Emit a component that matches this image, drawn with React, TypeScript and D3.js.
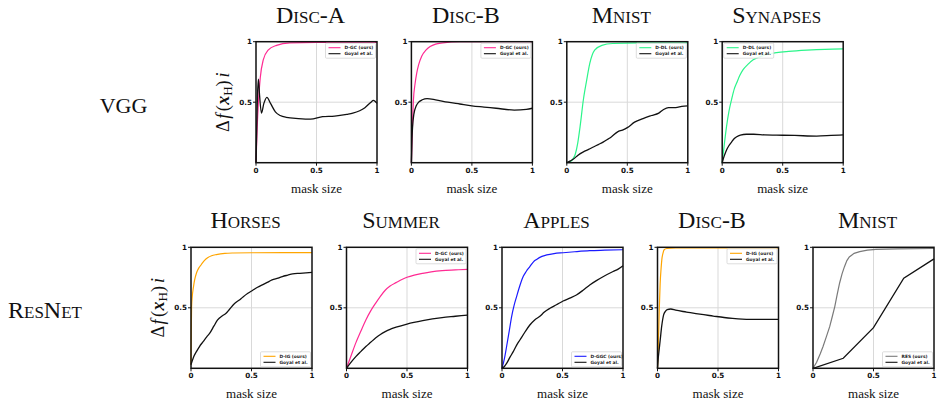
import React from 'react';
import * as d3 from 'd3';

type Pt = [number, number];

// ---- data: [mask size, Δf] ----
const discA_dgc: Pt[] = [[0, 0], [0.01, 0.3], [0.02, 0.5], [0.035, 0.7], [0.06, 0.85], [0.1, 0.93], [0.17, 0.97], [0.28, 0.99], [0.5, 0.995], [1, 0.995]];
const discA_goyal: Pt[] = [[0, 0], [0.012, 0.55], [0.02, 0.69], [0.03, 0.55], [0.045, 0.41], [0.065, 0.49], [0.09, 0.54], [0.12, 0.49], [0.16, 0.42], [0.2, 0.39], [0.25, 0.375], [0.35, 0.365], [0.45, 0.36], [0.55, 0.38], [0.65, 0.385], [0.75, 0.4], [0.8, 0.41], [0.9, 0.455], [0.95, 0.5], [0.97, 0.515], [1, 0.49]];

const discB_dgc: Pt[] = [[0, 0], [0.008, 0.28], [0.017, 0.52], [0.03, 0.65], [0.044, 0.74], [0.06, 0.81], [0.085, 0.88], [0.12, 0.93], [0.155, 0.96], [0.2, 0.98], [0.26, 0.99], [0.4, 1], [1, 1]];
const discB_goyal: Pt[] = [[0, 0], [0.005, 0.2], [0.01, 0.3], [0.02, 0.4], [0.04, 0.47], [0.06, 0.5], [0.09, 0.52], [0.13, 0.53], [0.2, 0.52], [0.3, 0.5], [0.4, 0.485], [0.5, 0.47], [0.6, 0.46], [0.7, 0.45], [0.85, 0.435], [0.95, 0.44], [1, 0.45]];

const mnistV_ddl: Pt[] = [[0, 0], [0.03, 0.01], [0.05, 0.03], [0.07, 0.07], [0.09, 0.16], [0.11, 0.3], [0.137, 0.52], [0.164, 0.68], [0.19, 0.82], [0.23, 0.93], [0.29, 0.97], [0.38, 0.985], [0.6, 0.99], [1, 0.99]];
const mnistV_goyal: Pt[] = [[0, 0], [0.03, 0.015], [0.055, 0.03], [0.09, 0.06], [0.137, 0.09], [0.18, 0.11], [0.22, 0.13], [0.26, 0.15], [0.3, 0.17], [0.34, 0.195], [0.37, 0.215], [0.42, 0.255], [0.46, 0.27], [0.5, 0.29], [0.56, 0.335], [0.63, 0.365], [0.7, 0.39], [0.76, 0.41], [0.8, 0.44], [0.84, 0.455], [0.9, 0.455], [0.95, 0.465], [1, 0.47]];

const syn_ddl: Pt[] = [[0, 0], [0.015, 0.13], [0.036, 0.3], [0.055, 0.42], [0.077, 0.52], [0.1, 0.61], [0.12, 0.66], [0.145, 0.72], [0.17, 0.765], [0.21, 0.81], [0.256, 0.85], [0.31, 0.875], [0.37, 0.895], [0.45, 0.91], [0.55, 0.92], [0.7, 0.93], [0.85, 0.937], [1, 0.94]];
const syn_goyal: Pt[] = [[0, 0], [0.015, 0.05], [0.036, 0.105], [0.055, 0.14], [0.077, 0.17], [0.1, 0.2], [0.12, 0.215], [0.15, 0.228], [0.2, 0.235], [0.26, 0.235], [0.35, 0.23], [0.45, 0.228], [0.6, 0.225], [0.78, 0.22], [0.9, 0.225], [1, 0.23]];

const horses_dig: Pt[] = [[0, 0.03], [0.002, 0.3], [0.005, 0.51], [0.01, 0.59], [0.02, 0.67], [0.03, 0.73], [0.046, 0.79], [0.065, 0.83], [0.087, 0.86], [0.11, 0.89], [0.14, 0.915], [0.17, 0.93], [0.21, 0.94], [0.28, 0.95], [0.35, 0.953], [0.5, 0.955], [1, 0.956]];
const horses_goyal: Pt[] = [[0, 0.03], [0.02, 0.09], [0.046, 0.14], [0.07, 0.18], [0.1, 0.22], [0.13, 0.26], [0.155, 0.29], [0.19, 0.35], [0.22, 0.4], [0.26, 0.435], [0.29, 0.455], [0.32, 0.49], [0.36, 0.535], [0.4, 0.565], [0.43, 0.59], [0.47, 0.62], [0.51, 0.645], [0.55, 0.67], [0.59, 0.69], [0.63, 0.71], [0.67, 0.73], [0.72, 0.745], [0.755, 0.758], [0.8, 0.77], [0.84, 0.78], [0.9, 0.785], [1, 0.793]];

const summer_dgc: Pt[] = [[0, 0], [0.04, 0.11], [0.077, 0.21], [0.12, 0.31], [0.16, 0.4], [0.2, 0.475], [0.24, 0.537], [0.28, 0.595], [0.32, 0.645], [0.36, 0.68], [0.41, 0.708], [0.5, 0.752], [0.56, 0.77], [0.63, 0.785], [0.7, 0.797], [0.79, 0.807], [0.9, 0.813], [1, 0.818]];
const summer_goyal: Pt[] = [[0, 0], [0.03, 0.04], [0.077, 0.096], [0.12, 0.14], [0.16, 0.18], [0.2, 0.215], [0.24, 0.25], [0.28, 0.28], [0.32, 0.303], [0.36, 0.322], [0.41, 0.34], [0.5, 0.366], [0.63, 0.394], [0.79, 0.419], [0.9, 0.43], [1, 0.44]];

const apples_dggc: Pt[] = [[0, 0], [0.02, 0.08], [0.038, 0.18], [0.06, 0.31], [0.08, 0.43], [0.1, 0.52], [0.12, 0.59], [0.15, 0.69], [0.176, 0.76], [0.2, 0.8], [0.23, 0.84], [0.26, 0.88], [0.286, 0.9], [0.33, 0.925], [0.37, 0.937], [0.43, 0.948], [0.505, 0.955], [0.6, 0.963], [0.725, 0.972], [0.85, 0.976], [1, 0.98]];
const apples_goyal: Pt[] = [[0, 0], [0.02, 0.015], [0.038, 0.04], [0.065, 0.09], [0.093, 0.138], [0.12, 0.19], [0.148, 0.234], [0.19, 0.3], [0.23, 0.358], [0.27, 0.4], [0.313, 0.43], [0.35, 0.465], [0.396, 0.496], [0.45, 0.525], [0.505, 0.556], [0.56, 0.58], [0.615, 0.606], [0.67, 0.645], [0.725, 0.689], [0.78, 0.725], [0.835, 0.757], [0.918, 0.8], [0.96, 0.82], [1, 0.848]];

const discBR_dig: Pt[] = [[0, 0], [0.005, 0.12], [0.008, 0.24], [0.015, 0.5], [0.022, 0.7], [0.03, 0.83], [0.036, 0.9], [0.045, 0.95], [0.055, 0.98], [0.077, 0.99], [0.15, 0.995], [1, 0.995]];
const discBR_goyal: Pt[] = [[0, 0], [0.005, 0.07], [0.012, 0.14], [0.022, 0.23], [0.035, 0.35], [0.05, 0.44], [0.065, 0.47], [0.08, 0.485], [0.11, 0.49], [0.15, 0.48], [0.24, 0.465], [0.35, 0.447], [0.46, 0.432], [0.55, 0.42], [0.62, 0.413], [0.7, 0.407], [0.76, 0.405], [0.85, 0.405], [1, 0.405]];

const mnistR_res: Pt[] = [[0, 0], [0.03, 0.05], [0.06, 0.12], [0.083, 0.18], [0.11, 0.26], [0.138, 0.344], [0.16, 0.43], [0.18, 0.51], [0.2, 0.61], [0.22, 0.705], [0.24, 0.78], [0.26, 0.84], [0.28, 0.89], [0.3, 0.92], [0.34, 0.95], [0.386, 0.964], [0.45, 0.976], [0.52, 0.983], [0.7, 0.987], [1, 0.99]];
const mnistR_goyal: Pt[] = [[0, 0], [0.25, 0.083], [0.5, 0.336], [0.75, 0.744], [1, 0.904]];

const xTicks = [0, 0.5, 1];
const yTicks = [0.5, 1];
const tickLabel = (v: number) => (v === 0 ? '0' : v === 1 ? '1' : '0.5');

const PINK = '#ff2a93';
const GREEN = '#2bf58a';
const ORANGE = '#ffa500';
const BLUE = '#1a1aff';
const GRAY = '#7a7a7a';

type Panel = {
  title: string;
  ours: Pt[];
  oursName: string;
  color: string;
  goyal: Pt[];
  legend: 'tr' | 'tl' | 'br';
  linear?: boolean;
};

const vggPanels: Panel[] = [
  { title: 'Disc-A', ours: discA_dgc, oursName: 'D-GC (ours)', color: PINK, goyal: discA_goyal, legend: 'tr' },
  { title: 'Disc-B', ours: discB_dgc, oursName: 'D-GC (ours)', color: PINK, goyal: discB_goyal, legend: 'tr' },
  { title: 'Mnist', ours: mnistV_ddl, oursName: 'D-DL (ours)', color: GREEN, goyal: mnistV_goyal, legend: 'tr' },
  { title: 'Synapses', ours: syn_ddl, oursName: 'D-DL (ours)', color: GREEN, goyal: syn_goyal, legend: 'tl' },
];

const resnetPanels: Panel[] = [
  { title: 'Horses', ours: horses_dig, oursName: 'D-IG (ours)', color: ORANGE, goyal: horses_goyal, legend: 'br' },
  { title: 'Summer', ours: summer_dgc, oursName: 'D-GC (ours)', color: PINK, goyal: summer_goyal, legend: 'tr' },
  { title: 'Apples', ours: apples_dggc, oursName: 'D-GGC (ours)', color: BLUE, goyal: apples_goyal, legend: 'br' },
  { title: 'Disc-B', ours: discBR_dig, oursName: 'D-IG (ours)', color: ORANGE, goyal: discBR_goyal, legend: 'tr' },
  { title: 'Mnist', ours: mnistR_res, oursName: 'RES (ours)', color: GRAY, goyal: mnistR_goyal, legend: 'br', linear: true },
];

const SIZE = 121;
const SERIF = '"Liberation Serif", "Times New Roman", serif';
const SANS = '"DejaVu Sans", sans-serif';

function YLabel({ x, y }: { x: number; y: number }) {
  return (
    <text transform={`translate(${x},${y}) rotate(-90)`} textAnchor="middle" fontFamily={SERIF} fontSize={18} fill="#111">
      <tspan>Δ</tspan>
      <tspan fontStyle="italic" dx={1.5}>f</tspan>
      <tspan dx={2.5}>(</tspan>
      <tspan fontStyle="italic" fontWeight="bold" dx={0.5}>x</tspan>
      <tspan fontSize={13} dy={3}>H</tspan>
      <tspan dy={-3}>)</tspan>
      <tspan fontStyle="italic" dx={3}>i</tspan>
    </text>
  );
}

function Plot({ p, left, top, showY }: { p: Panel; left: number; top: number; showY: boolean }) {
  const x = d3.scaleLinear().domain([0, 1]).range([left, left + SIZE]);
  const y = d3.scaleLinear().domain([0, 1]).range([top + SIZE, top]);
  const line = d3
    .line<Pt>()
    .x(d => x(d[0]))
    .y(d => y(d[1]))
    .curve(p.linear ? d3.curveLinear : d3.curveMonotoneX);

  const lw = 50;
  const lh = 15;
  const lx = p.legend === 'tl' ? left + 1.5 : left + SIZE - lw - 1.5;
  const ly = p.legend === 'br' ? top + SIZE - lh - 1.5 : top + 1.5;
  const cx = (left + left + SIZE) / 2;

  return (
    <g>
      <text x={cx - 6} y={top - 19} textAnchor="middle" fontFamily={SERIF} fontSize={24} style={{ fontVariant: 'small-caps' }} fill="#111">
        {p.title}
      </text>
      {xTicks.filter(t => t === 0.5).map(t => (
        <line key={'gx' + t} x1={x(t)} x2={x(t)} y1={y(0)} y2={y(1)} stroke="#d9d9d9" strokeWidth={1} />
      ))}
      {yTicks.filter(t => t === 0.5).map(t => (
        <line key={'gy' + t} x1={x(0)} x2={x(1)} y1={y(t)} y2={y(t)} stroke="#d9d9d9" strokeWidth={1} />
      ))}
      <path d={line(p.ours) || ''} fill="none" stroke={p.color} strokeWidth={1.2} />
      <path d={line(p.goyal) || ''} fill="none" stroke="#111" strokeWidth={1.3} />
      <rect x={left} y={top} width={SIZE} height={SIZE} fill="none" stroke="#111" strokeWidth={1.5} />
      {yTicks.map(t => (
        <g key={'yt' + t}>
          <line x1={x(0) - 3} x2={x(0)} y1={y(t)} y2={y(t)} stroke="#111" strokeWidth={1} />
          <text x={x(0) - 4} y={y(t) + 2.5} textAnchor="end" fontFamily={SANS} fontWeight="bold" fontSize={7.2} fill="#111">
            {tickLabel(t)}
          </text>
        </g>
      ))}
      {xTicks.map(t => (
        <g key={'xt' + t}>
          <line x1={x(t)} x2={x(t)} y1={y(0)} y2={y(0) + 3} stroke="#111" strokeWidth={1} />
          <text x={x(t)} y={y(0) + 10} textAnchor="middle" fontFamily={SANS} fontWeight="bold" fontSize={7.2} fill="#111">
            {tickLabel(t)}
          </text>
        </g>
      ))}
      <text x={cx} y={top + SIZE + 30} textAnchor="middle" fontFamily={SERIF} fontSize={13} fill="#111">
        mask size
      </text>
      <g transform={`translate(${lx},${ly})`}>
        <rect width={lw} height={lh} rx={1} fill="#fff" fillOpacity={0.85} stroke="#cfcfcf" strokeWidth={0.7} />
        {[
          { c: p.color, n: p.oursName },
          { c: '#111', n: 'Goyal et al.' },
        ].map((e, i) => (
          <g key={i} transform={`translate(0,${4.5 + i * 6})`}>
            <line x1={3} x2={15} y1={0} y2={0} stroke={e.c} strokeWidth={1.1} />
            <text x={19} y={1.6} fontFamily={SANS} fontWeight="bold" fontSize={4.4} fill="#222">
              {e.n}
            </text>
          </g>
        ))}
      </g>
      {showY && <YLabel x={left - 27} y={top + SIZE / 2} />}
    </g>
  );
}

export default function App() {
  const topRow = { x0: 256, step: 155.4, top: 41.7 };
  const botRow = { x0: 191, step: 155.5, top: 247.3 };
  return (
    <svg width={947} height={404} style={{ position: 'absolute', left: 0, top: 0, background: '#fff' }}>
      <text x={123.5} y={113} textAnchor="middle" fontFamily={SERIF} fontSize={22} fill="#111">
        VGG
      </text>
      <text x={45} y={318} textAnchor="middle" fontFamily={SERIF} fontSize={24} style={{ fontVariant: 'small-caps' }} fill="#111">
        ResNet
      </text>
      {vggPanels.map((p, i) => (
        <Plot key={'v' + i} p={p} left={topRow.x0 + i * topRow.step} top={topRow.top} showY={i === 0} />
      ))}
      {resnetPanels.map((p, i) => (
        <Plot key={'r' + i} p={p} left={botRow.x0 + i * botRow.step} top={botRow.top} showY={i === 0} />
      ))}
    </svg>
  );
}
